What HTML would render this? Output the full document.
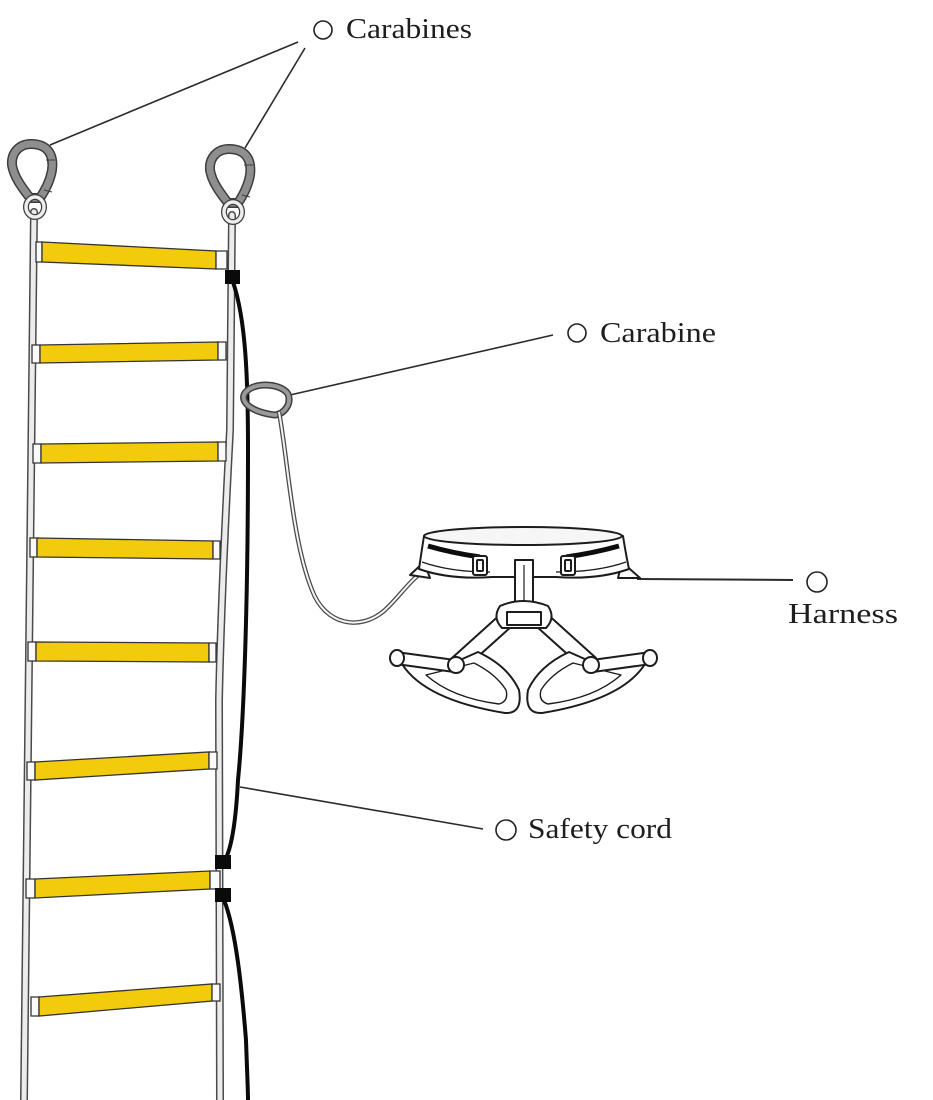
<!DOCTYPE html>
<html><head><meta charset="utf-8"><style>
html,body{margin:0;padding:0;background:#fff;}
svg{display:block;}
text{font-family:"Liberation Serif",serif;fill:#1e1e1e;}
</style></head><body>
<svg width="933" height="1100" viewBox="0 0 933 1100" xmlns="http://www.w3.org/2000/svg">
<rect width="933" height="1100" fill="#fff"/>

<!-- leader lines -->
<g stroke="#2a2a2a" stroke-width="1.6" fill="none">
<line x1="298" y1="42" x2="50" y2="145"/>
<line x1="305" y1="48" x2="245" y2="148"/>
<line x1="290" y1="395" x2="553" y2="335"/>
<line x1="637" y1="579" x2="793" y2="580" stroke-width="2"/>
<line x1="240" y1="787" x2="483" y2="829"/>
</g>

<!-- ladder rails -->
<g fill="none" stroke-linecap="round">
<path d="M34,212 C32,400 27,600 24,1100" stroke="#4a4a4a" stroke-width="8"/>
<path d="M34,212 C32,400 27,600 24,1100" stroke="#ececec" stroke-width="5"/>
<path d="M232,215 L230,430 Q221,600 219,700 L220,1100" stroke="#4a4a4a" stroke-width="8"/>
<path d="M232,215 L230,430 Q221,600 219,700 L220,1100" stroke="#ececec" stroke-width="5"/>
</g>

<!-- rungs -->
<g stroke="#333" stroke-width="1.3">
<g>
<polygon points="36,242 42,242 42,262 36,262" fill="#fafafa"/>
<polygon points="42,242 216,251 216,269 42,262" fill="#f2cc0c"/>
<polygon points="216,251 227,251 227,269 216,269" fill="#fafafa"/>
</g>
<g>
<polygon points="32,345 40,345 40,363 32,363" fill="#fafafa"/>
<polygon points="40,345 218,342 218,360 40,363" fill="#f2cc0c"/>
<polygon points="218,342 226,342 226,360 218,360" fill="#fafafa"/>
</g>
<g>
<polygon points="33,444 41,444 41,463 33,463" fill="#fafafa"/>
<polygon points="41,444 218,442 218,461 41,463" fill="#f2cc0c"/>
<polygon points="218,442 226,442 226,461 218,461" fill="#fafafa"/>
</g>
<g>
<polygon points="30,538 37,538 37,557 30,557" fill="#fafafa"/>
<polygon points="37,538 213,541 213,559 37,557" fill="#f2cc0c"/>
<polygon points="213,541 220,541 220,559 213,559" fill="#fafafa"/>
</g>
<g>
<polygon points="28,642 36,642 36,661 28,661" fill="#fafafa"/>
<polygon points="36,642 209,643 209,662 36,661" fill="#f2cc0c"/>
<polygon points="209,643 216,643 216,662 209,662" fill="#fafafa"/>
</g>
<g>
<polygon points="27,762 35,762 35,780 27,780" fill="#fafafa"/>
<polygon points="35,762 209,752 209,769 35,780" fill="#f2cc0c"/>
<polygon points="209,752 217,752 217,769 209,769" fill="#fafafa"/>
</g>
<g>
<polygon points="26,879 35,879 35,898 26,898" fill="#fafafa"/>
<polygon points="35,879 210,871 210,889 35,898" fill="#f2cc0c"/>
<polygon points="210,871 220,871 220,889 210,889" fill="#fafafa"/>
</g>
<g>
<polygon points="31,997 39,997 39,1016 31,1016" fill="#fafafa"/>
<polygon points="39,997 212,984 212,1001 39,1016" fill="#f2cc0c"/>
<polygon points="212,984 220,984 220,1001 212,1001" fill="#fafafa"/>
</g>
</g>

<!-- safety cord -->
<g fill="none" stroke="#0a0a0a" stroke-linecap="round">
<path d="M233,282 C246,320 248,380 248,450 C248,600 244,720 238,780 C236,820 232,845 226,858" stroke-width="4"/>
<path d="M224,900 C236,930 242,990 246,1040 C247,1070 248,1090 248,1100" stroke-width="4"/>
</g>
<rect x="225" y="270" width="15" height="14" fill="#0a0a0a"/>
<rect x="215" y="855" width="16" height="14" fill="#0a0a0a"/>
<rect x="215" y="888" width="16" height="14" fill="#0a0a0a"/>

<!-- top carabiners -->
<g id="cb">
<path d="M31,144 C48,144 54,155 52,170 C50,182 44,192 40,198 L30,198 C24,190 14,178 12,165 C11,152 20,144 31,144 Z" fill="none" stroke="#3d3d3d" stroke-width="10"/>
<path d="M31,144 C48,144 54,155 52,170 C50,182 44,192 40,198 L30,198 C24,190 14,178 12,165 C11,152 20,144 31,144 Z" fill="none" stroke="#8e8e8e" stroke-width="7"/>
<line x1="46" y1="160" x2="55" y2="160" stroke="#3d3d3d" stroke-width="1"/>
<line x1="44" y1="190" x2="52" y2="192" stroke="#3d3d3d" stroke-width="1"/>
<ellipse cx="35" cy="207" rx="9" ry="10" fill="none" stroke="#3d3d3d" stroke-width="6"/>
<ellipse cx="35" cy="207" rx="9" ry="10" fill="none" stroke="#eeeeee" stroke-width="3.5"/>
</g>
<use href="#cb" transform="translate(198,5)"/>

<!-- side carabine -->
<path d="M248,390 C258,382 282,384 288,394 C292,404 284,414 275,415 C265,414 250,410 245,402 C242,397 244,393 248,390 Z" fill="none" stroke="#3d3d3d" stroke-width="7"/>
<path d="M248,390 C258,382 282,384 288,394 C292,404 284,414 275,415 C265,414 250,410 245,402 C242,397 244,393 248,390 Z" fill="none" stroke="#9a9a9a" stroke-width="4"/>

<!-- rope to harness -->
<path d="M279,412 C288,460 292,540 312,590 C325,625 360,632 385,610 C400,596 410,580 425,570" fill="none" stroke="#4a4a4a" stroke-width="4.5"/>
<path d="M279,412 C288,460 292,540 312,590 C325,625 360,632 385,610 C400,596 410,580 425,570" fill="none" stroke="#f4f4f4" stroke-width="2"/>

<!-- harness -->
<g stroke="#1c1c1c" stroke-width="2" fill="#fff" stroke-linejoin="round">
<!-- side flaps -->
<path d="M424,562 L410,575 L430,578 Z"/>
<path d="M622,562 L640,578 L618,578 Z"/>
<!-- belt body -->
<path d="M424,536 Q421,555 419,569 Q450,580 492,577 L556,577 Q598,580 629,569 Q626,555 623,536 Z"/>
<ellipse cx="523" cy="536" rx="99" ry="9" fill="#f6f6f6"/>
<path d="M428,546 Q452,553 480,557" fill="none" stroke="#0c0c0c" stroke-width="5"/>
<path d="M566,557 Q594,553 619,546" fill="none" stroke="#0c0c0c" stroke-width="5"/>
<path d="M422,562 Q450,572 490,572" fill="none" stroke-width="1.3"/>
<path d="M556,572 Q598,572 626,562" fill="none" stroke-width="1.3"/>
<!-- buckles -->
<rect x="473" y="556" width="14" height="19" rx="2"/>
<rect x="477" y="560" width="6" height="11" rx="1"/>
<rect x="561" y="556" width="14" height="19" rx="2"/>
<rect x="565" y="560" width="6" height="11" rx="1"/>
<!-- center strap -->
<rect x="515" y="560" width="18" height="58"/>
<line x1="524" y1="565" x2="524" y2="612" stroke-width="1.2"/>
<!-- leg straps -->
<path d="M503,612 L452,658 L463,670 L512,626 Z"/>
<path d="M545,612 L596,658 L585,670 L536,626 Z"/>
<!-- ring -->
<path d="M500,606 Q523,596 548,606 Q556,618 546,628 L502,628 Q492,618 500,606 Z"/>
<rect x="507" y="612" width="34" height="13"/>
<!-- leg loops -->
<g id="leg">
<path d="M402,664 Q425,700 505,713 Q523,714 519,690 Q508,666 478,652 L460,660 Z"/>
<path d="M426,675 Q452,698 499,704 Q509,701 506,690 Q496,674 474,663 Z" stroke-width="1.4"/>
<path d="M396,652 L455,660 L454,672 L396,664 Z"/>
<ellipse cx="397" cy="658" rx="7" ry="8"/>
<circle cx="456" cy="665" r="8"/>
</g>
<use href="#leg" transform="translate(1047,0) scale(-1,1)"/>
</g>

<!-- labels -->
<g fill="none" stroke="#222" stroke-width="1.6">
<circle cx="323" cy="30" r="9"/>
<circle cx="577" cy="333" r="9"/>
<circle cx="817" cy="582" r="10"/>
<circle cx="506" cy="830" r="10"/>
</g>
<text x="346" y="38" font-size="28" textLength="126" lengthAdjust="spacingAndGlyphs">Carabines</text>
<text x="600" y="342" font-size="28" textLength="116" lengthAdjust="spacingAndGlyphs">Carabine</text>
<text x="788" y="623" font-size="28" textLength="110" lengthAdjust="spacingAndGlyphs">Harness</text>
<text x="528" y="838" font-size="28" textLength="144" lengthAdjust="spacingAndGlyphs">Safety cord</text>
</svg>
</body></html>
